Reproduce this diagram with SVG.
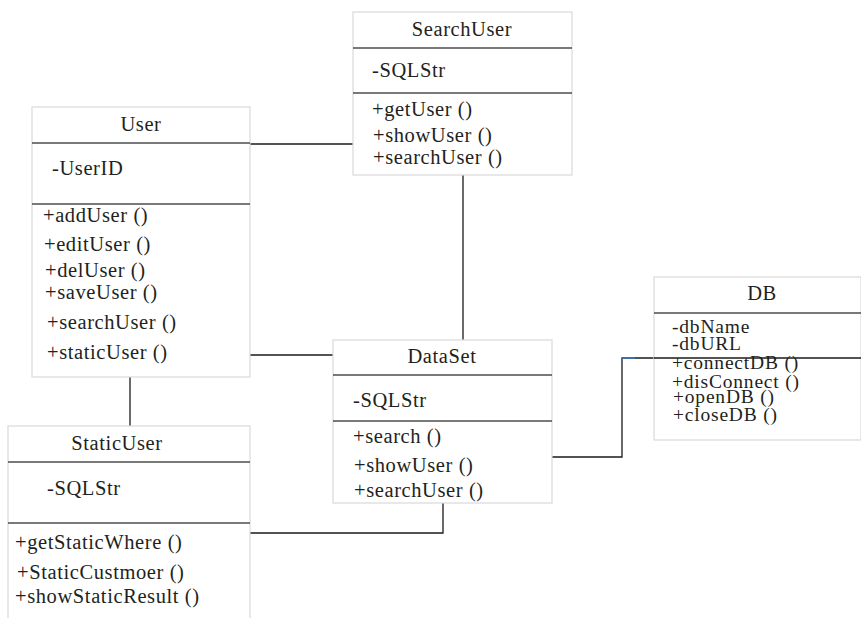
<svg xmlns="http://www.w3.org/2000/svg" width="861" height="618" viewBox="0 0 861 618">
<style>
.box{fill:#fff;stroke:#d9d9d9;stroke-width:1.2}
.div{stroke:#4d4d4d;stroke-width:1.5}
.t{font-family:"Liberation Serif","Times New Roman",serif;font-size:20.5px;letter-spacing:0.6px;fill:#231f20}
.s{font-size:19.5px;letter-spacing:0.8px}
.c{text-anchor:middle}
.con{fill:none;stroke:#1a1a1a;stroke-width:1.3}
</style>
<rect width="861" height="618" fill="#fff"/>
<g id="connectors">
<path class="con" d="M250,144 H353"/>
<path class="con" d="M463,175 V340"/>
<path class="con" d="M250,355 H333"/>
<path class="con" d="M130,377 V426"/>
<path class="con" d="M552,457 H622 V358 H654"/>
<path d="M622,358 H635" stroke="#3a78c0" stroke-width="1.6"/>
<path class="con" d="M250,533 H443 V503"/>
</g>
<g id="User">
<rect class="box" x="32" y="107" width="218" height="270"/>
<line class="div" x1="32" y1="143" x2="250" y2="143"/>
<line class="div" x1="32" y1="204" x2="250" y2="204"/>
<text class="t c" x="141" y="131">User</text>
<text class="t" x="52" y="175">-UserID</text>
<text class="t" x="43" y="222">+addUser ()</text>
<text class="t" x="44" y="251">+editUser ()</text>
<text class="t" x="45" y="277">+delUser ()</text>
<text class="t" x="45" y="299">+saveUser ()</text>
<text class="t" x="47" y="329">+searchUser ()</text>
<text class="t" x="47" y="359">+staticUser ()</text>
</g>
<g id="SearchUser">
<rect class="box" x="353" y="12" width="219" height="163"/>
<line class="div" x1="353" y1="48" x2="572" y2="48"/>
<line class="div" x1="353" y1="93" x2="572" y2="93"/>
<text class="t c" x="462" y="36">SearchUser</text>
<text class="t" x="372" y="77">-SQLStr</text>
<text class="t" x="372" y="116">+getUser ()</text>
<text class="t" x="373" y="142">+showUser ()</text>
<text class="t" x="373" y="164">+searchUser ()</text>
</g>
<g id="DataSet">
<rect class="box" x="333" y="340" width="219" height="163"/>
<line class="div" x1="333" y1="375" x2="552" y2="375"/>
<line class="div" x1="333" y1="421" x2="552" y2="421"/>
<text class="t c" x="442" y="363">DataSet</text>
<text class="t" x="353" y="407">-SQLStr</text>
<text class="t" x="353" y="443">+search ()</text>
<text class="t" x="354" y="472">+showUser ()</text>
<text class="t" x="354" y="497">+searchUser ()</text>
</g>
<g id="DB">
<rect class="box" x="654" y="277" width="207" height="163"/>
<line class="div" x1="654" y1="313" x2="861" y2="313"/>
<line class="con" x1="654" y1="358" x2="861" y2="358"/>
<text class="t c" x="762" y="300">DB</text>
<text class="t s" x="672" y="333">-dbName</text>
<text class="t s" x="672" y="350">-dbURL</text>
<text class="t s" x="672" y="369">+connectDB ()</text>
<text class="t s" x="672" y="388">+disConnect ()</text>
<text class="t s" x="673" y="403">+openDB ()</text>
<text class="t s" x="673" y="421">+closeDB ()</text>
</g>
<g id="StaticUser">
<rect class="box" x="8" y="426" width="242" height="200"/>
<line class="div" x1="8" y1="462" x2="250" y2="462"/>
<line class="div" x1="8" y1="523" x2="250" y2="523"/>
<text class="t c" x="117" y="450">StaticUser</text>
<text class="t" x="47" y="495">-SQLStr</text>
<text class="t" x="15" y="549">+getStaticWhere ()</text>
<text class="t" x="17" y="579">+StaticCustmoer ()</text>
<text class="t" x="15" y="603">+showStaticResult ()</text>
</g>
</svg>
